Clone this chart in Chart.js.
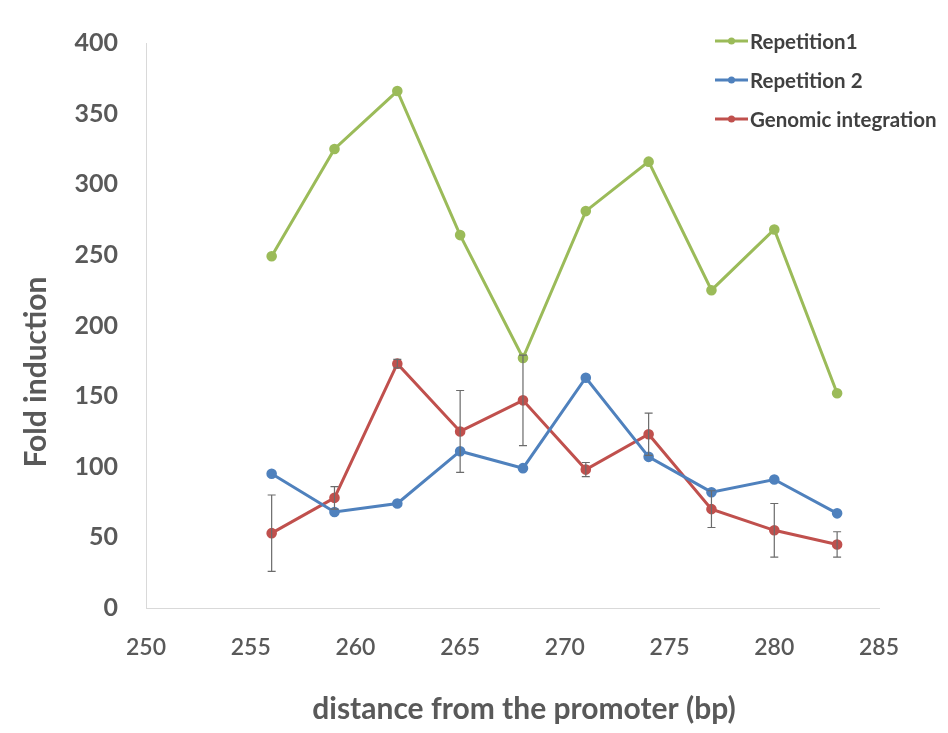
<!DOCTYPE html>
<html>
<head>
<meta charset="utf-8">
<script src="https://cdn.jsdelivr.net/npm/chart.js@4"></script>
<style>
  html, body { margin: 0; padding: 0; background: #ffffff; }
  #wrap { width: 948px; height: 733px; }
</style>
</head>
<body>
<div id="wrap"><canvas id="chart" width="948" height="733"></canvas></div>
<script>
// Data ------------------------------------------------------------------------
var distances = [256, 259, 262, 265, 268, 271, 274, 277, 280, 283];
var repetition1 = [249, 325, 366, 264, 177, 281, 316, 225, 268, 152];
var repetition2 = [95, 68, 74, 111, 99, 163, 107, 82, 91, 67];
var genomic = [53, 78, 173, 125, 147, 98, 123, 70, 55, 45];
var genomicError = [27, 8, 3, 29, 32, 5, 15, 13, 19, 9];
var seriesNames = ['Repetition1', 'Repetition 2', 'Genomic integration'];
var xTitle = 'distance from the promoter (bp)';
var yTitle = 'Fold induction';
var colors = ['#9bbb59', '#4f81bd', '#c0504d'];

var fontFamily = 'Lato, "Open Sans", sans-serif';
var textColor = '#595959';

function toPoints(values) {
    return distances.map(function(d, i) { return { x: d, y: values[i] }; });
}

function makeDataset(label, values, color) {
    return {
        label: label,
        data: toPoints(values),
        borderColor: color,
        backgroundColor: color,
        pointBackgroundColor: color,
        pointBorderColor: color,
        borderWidth: 3,
        pointRadius: 3.8,
        pointHoverRadius: 3.8,
        tension: 0,
        fill: false
    };
}

// Error bars for the genomic integration series --------------------------------
var errorBars = {
    id: 'errorBars',
    afterDatasetsDraw: function(chart) {
        var ctx = chart.ctx;
        var xs = chart.scales.x;
        var ys = chart.scales.y;
        ctx.save();
        ctx.strokeStyle = '#6b6b6b';
        ctx.lineWidth = 1.2;
        for (var i = 0; i < distances.length; i++) {
            var px = xs.getPixelForValue(distances[i]);
            var top = ys.getPixelForValue(genomic[i] + genomicError[i]);
            var bot = ys.getPixelForValue(genomic[i] - genomicError[i]);
            ctx.beginPath();
            ctx.moveTo(px, top); ctx.lineTo(px, bot);
            ctx.moveTo(px - 4, top); ctx.lineTo(px + 4, top);
            ctx.moveTo(px - 4, bot); ctx.lineTo(px + 4, bot);
            ctx.stroke();
        }
        ctx.restore();
    }
};

// Axis titles (placed like the original, a bit off the axis centre) ----------
var axisTitles = {
    id: 'axisTitles',
    afterDraw: function(chart) {
        var ctx = chart.ctx;
        ctx.save();
        ctx.font = 'bold 30px ' + fontFamily;
        ctx.fillStyle = textColor;
        ctx.textAlign = 'center';
        ctx.textBaseline = 'middle';
        ctx.fillText(xTitle, 524, 709);
        ctx.translate(36, 372);
        ctx.rotate(-Math.PI / 2);
        ctx.fillText(yTitle, 0, 0);
        ctx.restore();
    }
};

// Vertical legend in the upper right ------------------------------------------
var sideLegend = {
    id: 'sideLegend',
    afterDraw: function(chart) {
        var ctx = chart.ctx;
        var rows = [41, 80, 119];
        ctx.save();
        ctx.font = 'bold 20.5px ' + fontFamily;
        ctx.textBaseline = 'middle';
        ctx.textAlign = 'left';
        chart.data.datasets.forEach(function(ds, i) {
            var y = rows[i];
            ctx.strokeStyle = ds.borderColor;
            ctx.lineWidth = 3;
            ctx.beginPath();
            ctx.moveTo(715, y); ctx.lineTo(748, y);
            ctx.stroke();
            ctx.fillStyle = ds.borderColor;
            ctx.beginPath();
            ctx.arc(731.5, y, 3.5, 0, Math.PI * 2);
            ctx.fill();
            ctx.fillStyle = '#404040';
            ctx.fillText(ds.label, 750, y + 1);
        });
        ctx.restore();
    }
};

// Chart -----------------------------------------------------------------------
const chart = new Chart(document.getElementById('chart').getContext('2d'), {
    type: 'line',
    data: {
        datasets: [
            makeDataset(seriesNames[0], repetition1, colors[0]),
            makeDataset(seriesNames[1], repetition2, colors[1]),
            makeDataset(seriesNames[2], genomic, colors[2])
        ]
    },
    options: {
        responsive: false,
        animation: false,
        layout: {
            padding: { left: 0, top: 43, right: 69, bottom: 0 }
        },
        plugins: {
            legend: { display: false },
            tooltip: { enabled: false }
        },
        scales: {
            x: {
                type: 'linear',
                min: 250,
                max: 285,
                afterFit: function(s) { s.height = 125; },
                grid: { color: 'transparent', drawTicks: false },
                border: { display: true, color: '#d9d9d9', width: 1 },
                ticks: {
                    stepSize: 5,
                    padding: 26,
                    color: textColor,
                    font: { family: fontFamily, size: 23, weight: '600' }
                }
            },
            y: {
                min: 0,
                max: 400,
                afterFit: function(s) { s.width = 146; },
                grid: { color: 'transparent', drawTicks: false },
                border: { display: true, color: '#d9d9d9', width: 1 },
                ticks: {
                    stepSize: 50,
                    padding: 28,
                    color: textColor,
                    font: { family: fontFamily, size: 25, weight: 'bold' }
                }
            }
        }
    },
    plugins: [errorBars, axisTitles, sideLegend]
});
</script>
</body>
</html>
